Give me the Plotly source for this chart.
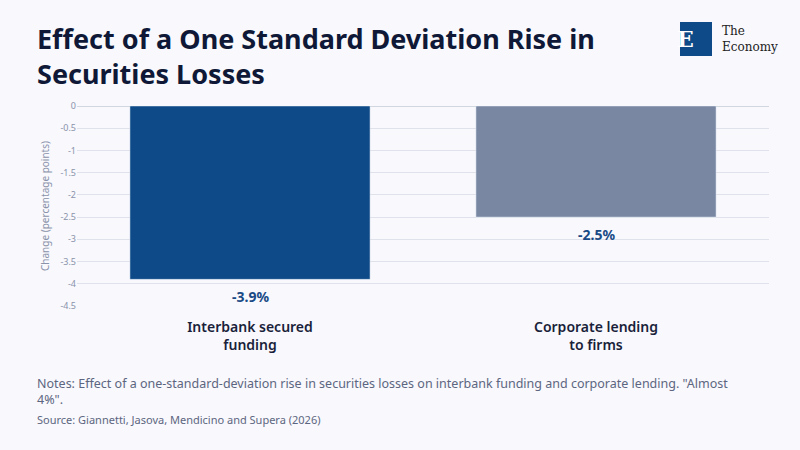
import plotly.graph_objects as go

CATEGORIAS = ["Interbank secured<br>funding", "Corporate lending<br>to firms"]
VALORES = [-3.9, -2.5]
ETIQUETAS = ["-3.9%", "-2.5%"]
COLORES = ["#0d4a87", "#7a87a3"]
TICKS_Y = [0, -0.5, -1, -1.5, -2, -2.5, -3, -3.5, -4, -4.5]

FUENTE = "Noto Sans"

# Medidas del lienzo en pixeles.
ANCHO, ALTO = 800, 450
M_IZQ, M_DER, M_SUP, M_INF = 77, 31, 106, 144


def px_a_papel(x, y):
    """
    Convierte una posición en pixeles a coordenadas de papel.
    """
    ancho_plot = ANCHO - M_IZQ - M_DER
    alto_plot = ALTO - M_SUP - M_INF
    return (x - M_IZQ) / ancho_plot, (ALTO - M_INF - y) / alto_plot


def main():

    fig = go.Figure()

    fig.add_trace(
        go.Bar(
            x=CATEGORIAS,
            y=VALORES,
            marker_color=COLORES,
            hoverinfo="skip",
        )
    )

    fig.update_xaxes(
        showgrid=False,
        showline=False,
        ticks="",
        ticklabelstandoff=11,
        tickfont=dict(size=14, color="#1a1f3a", family=FUENTE, weight=600),
    )

    fig.update_yaxes(
        range=[-4.5, 0],
        tickvals=TICKS_Y,
        ticktext=[f"{v:g}" for v in TICKS_Y],
        tickfont=dict(size=9, color="#8a93aa", family=FUENTE),
        gridcolor="#dfe2ea",
        gridwidth=1,
        zeroline=True,
        zerolinecolor="#d2d6df",
        zerolinewidth=1,
        ticks="",
        title=dict(
            text="Change (percentage points)",
            font=dict(size=10, color="#8a93aa", family=FUENTE),
            standoff=8,
        ),
    )

    # Etiquetas de valor debajo de cada barra.
    etiquetas = [
        dict(
            x=cat, y=val,
            xref="x", yref="y",
            yanchor="top",
            yshift=-6,
            text=f"<b>{txt}</b>",
            font=dict(size=14, color="#1a4a85", family=FUENTE),
            showarrow=False,
        )
        for cat, val, txt in zip(CATEGORIAS, VALORES, ETIQUETAS)
    ]

    tx, ty = px_a_papel(35, 18)
    nx, ny = px_a_papel(35, 391)
    sx, sy = px_a_papel(35, 420)
    ex, ey = px_a_papel(696, 39)
    lx, ly = px_a_papel(720, 39)
    rx0, ry1 = px_a_papel(680, 22)
    rx1, ry0 = px_a_papel(712, 56)

    fig.update_layout(
        width=ANCHO,
        height=ALTO,
        bargap=0.306,
        showlegend=False,
        plot_bgcolor="#f8f8fd",
        paper_bgcolor="#f8f8fd",
        font_family=FUENTE,
        margin=dict(l=M_IZQ, r=M_DER, t=M_SUP, b=M_INF),
        annotations=etiquetas + [
            dict(
                x=tx, y=ty,
                xref="paper", yref="paper",
                xanchor="left", yanchor="top",
                align="left",
                text="<b>Effect of a One Standard Deviation Rise in<br>Securities Losses</b>",
                font=dict(size=27, color="#0f1836", family=FUENTE),
                showarrow=False,
            ),
            dict(
                x=nx, y=ny,
                xref="paper", yref="paper",
                xanchor="left", yanchor="middle",
                align="left",
                text="Notes: Effect of a one-standard-deviation rise in securities losses on interbank funding and corporate lending. \"Almost<br>4%\".",
                font=dict(size=12.5, color="#5d6680", family=FUENTE),
                showarrow=False,
            ),
            dict(
                x=sx, y=sy,
                xref="paper", yref="paper",
                xanchor="left", yanchor="middle",
                align="left",
                text="Source: Giannetti, Jasova, Mendicino and Supera (2026)",
                font=dict(size=11, color="#5d6680", family=FUENTE),
                showarrow=False,
            ),
            dict(
                x=ex, y=ey,
                xref="paper", yref="paper",
                yanchor="middle",
                text="<b>E</b>",
                font=dict(size=22, color="#ffffff", family="DejaVu Serif"),
                showarrow=False,
            ),
            dict(
                x=lx, y=ly,
                xref="paper", yref="paper",
                xanchor="left", yanchor="middle",
                align="left",
                text="The<br>Economy",
                font=dict(size=12, color="#222222", family="DejaVu Serif"),
                showarrow=False,
            ),
        ],
        shapes=[
            dict(
                type="rect",
                xref="paper", yref="paper",
                x0=rx0, x1=rx1, y0=ry0, y1=ry1,
                fillcolor="#0d4a87",
                line_width=0,
            ),
        ],
    )

    # Quitamos el margen del body para que la figura ocupe toda la ventana.
    fig.write_html(
        "out.html",
        config={"displayModeBar": False},
        post_script="document.body.style.margin='0';document.body.style.overflow='hidden';",
    )


if __name__ == "__main__":

    main()
